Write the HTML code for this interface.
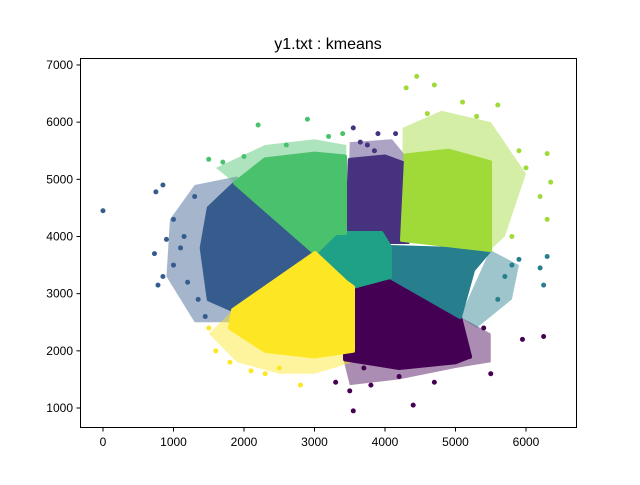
<!DOCTYPE html>
<html><head><meta charset="utf-8"><style>
body{margin:0;background:#fff;width:640px;height:480px;overflow:hidden;font-family:"Liberation Sans",sans-serif}
</style></head><body>
<svg id="chart" width="640" height="480" xmlns="http://www.w3.org/2000/svg">
<rect width="640" height="480" fill="#fff"/>
<text x="328" y="49" font-size="16" text-anchor="middle" font-family="Liberation Sans, sans-serif">y1.txt : kmeans</text>
<g id="marks"></g>
<rect x="80.5" y="58.5" width="496" height="369" fill="none" stroke="#000" stroke-width="1"/>
<g id="axes"></g>
</svg>
<script>
const xTicks=[0,1000,2000,3000,4000,5000,6000];
const yTicks=[1000,2000,3000,4000,5000,6000,7000];
const clusterNames=["purple","indigo","blue","teal","center","green","lime","yellow"];
const clusterColors=["#440154","#46327e","#365c8d","#277f8e","#1fa187","#4ac16d","#a0da39","#fde725"];
const coreX=[
 [3546,4070,5064,5206,5000,4200,3433,3433],
 [3461,3500,4000,4326,4326,3461],
 [1872,3007,1844,1500,1400,1500],
 [4070,5490,5250,5064,4070],
 [3007,3300,3950,4070,4070,3546,3450],
 [1872,2300,3000,3433,3433,3300,3007],
 [4241,4300,4900,5490,5490,4241],
 [3007,3450,3546,3546,3000,2300,1800,1844]
];
const coreY=[
 [3117,3291,2592,1900,1800,1700,1850,3000],
 [3950,5340,5400,5250,3904,3904],
 [4935,3711,2714,2900,3800,4500],
 [3816,3764,3414,2592,3291],
 [3711,4061,4061,3816,3291,3117,3200],
 [4935,5350,5450,5400,4061,4061,3711],
 [3940,5420,5500,5300,3764,3940],
 [3711,3200,3117,2000,1900,2000,2400,2714]
];
const haloX=[
 [3400,3500,4200,5000,5500,5500,5206,5064,3546],
 [3500,4100,4300,4326,3461],
 [1300,1900,3007,1800,1300,900,950],
 [5490,5900,5800,5300,5064],
 [3007],
 [1600,2300,3000,3450,3450,3007,1872],
 [4250,4800,5500,6000,5700,5490,4241],
 [1844,1500,1900,2500,3000,3546,3546]
];
const haloY=[
 [1900,1400,1500,1700,1800,2300,2500,2592,3117],
 [5650,5700,5400,3904,3950],
 [4900,5050,3711,2500,2500,3300,4300],
 [3764,3500,2900,2400,2592],
 [3711],
 [5200,5600,5700,5600,4061,3711,4935],
 [5900,6200,6000,5100,4000,3764,3940],
 [2714,2300,1800,1600,1600,1800,2190]
];
const outX=[
 [3500,3550,3800,4400,4200,4700,5500,5200,5950,6250,5400,3300,4900,3700],
 [3550,3650,3900,3750,4150,3850],
 [0,750,850,730,780,900,1000,1100,1200,1300,1350,1450,1000,1150,850],
 [6300,6200,6250,5700,5600,5800,5900],
 [],
 [1500,2200,2900,1700,2600,3200,3400,2000],
 [4450,4300,4700,5100,5600,6300,6350,6200,6300,5800,5900,5300,4600,6000],
 [1600,1800,2100,2800,2500,1500,2300]
];
const outY=[
 [1300,950,1400,1050,1550,1450,1600,1900,2200,2250,2400,1450,2100,1700],
 [5900,5650,5800,5600,5800,5500],
 [4450,4780,4900,3700,3150,3950,4300,3800,3200,4700,2900,2600,3500,4000,3300],
 [3650,3450,3150,3300,2900,3500,3600],
 [],
 [5350,5950,6050,5300,5600,5750,5800,5400],
 [6800,6600,6650,6350,6300,5450,4950,4700,4300,4000,5500,6100,6150,5200],
 [2000,1800,1650,1400,1700,2400,1600]
];
const xs=v=>103+v*0.0705, ys=v=>408-(v-1000)*0.05717;
const NS="http://www.w3.org/2000/svg";
const marks=document.getElementById('marks'), axes=document.getElementById('axes');
clusterNames.forEach((n,i)=>{
  if(haloX[i].length<3) return;
  const p=document.createElementNS(NS,'polygon');
  p.setAttribute('points',haloX[i].map((x,j)=>xs(x)+','+ys(haloY[i][j])).join(' '));
  p.setAttribute('fill',clusterColors[i]);p.setAttribute('fill-opacity','0.45');
  p.setAttribute('stroke-linejoin','round');
  
  
  marks.appendChild(p);
});
clusterNames.forEach((n,i)=>{
  const p=document.createElementNS(NS,'polygon');
  p.setAttribute('points',coreX[i].map((x,j)=>xs(x)+','+ys(coreY[i][j])).join(' '));
  p.setAttribute('fill',clusterColors[i]);p.setAttribute('stroke',clusterColors[i]);
  p.setAttribute('stroke-width','4');p.setAttribute('stroke-linejoin','round');
  
  
  marks.appendChild(p);
});
clusterNames.forEach((n,i)=>{
  outX[i].forEach((x,j)=>{
    const c=document.createElementNS(NS,'circle');
    c.setAttribute('cx',xs(x));c.setAttribute('cy',ys(outY[i][j]));c.setAttribute('r',2.5);
    c.setAttribute('fill',clusterColors[i]);
    
    
    marks.appendChild(c);
  });
});
xTicks.forEach(t=>{
  const x=xs(t);
  const l=document.createElementNS(NS,'line');
  l.setAttribute('x1',x);l.setAttribute('x2',x);l.setAttribute('y1',427.5);l.setAttribute('y2',431.5);l.setAttribute('stroke','#000');
  
  
  axes.appendChild(l);
  const tx=document.createElementNS(NS,'text');
  tx.setAttribute('x',x);tx.setAttribute('y',446);tx.setAttribute('font-size','12');tx.setAttribute('text-anchor','middle');
  tx.textContent=t;
  
  
  axes.appendChild(tx);
});
yTicks.forEach(t=>{
  const y=ys(t);
  const l=document.createElementNS(NS,'line');
  l.setAttribute('x1',76.5);l.setAttribute('x2',80.5);l.setAttribute('y1',y);l.setAttribute('y2',y);l.setAttribute('stroke','#000');
  
  
  axes.appendChild(l);
  const tx=document.createElementNS(NS,'text');
  tx.setAttribute('x',73);tx.setAttribute('y',y+4);tx.setAttribute('font-size','12');tx.setAttribute('text-anchor','end');
  tx.textContent=t;
  
  
  axes.appendChild(tx);
});
</script>
</body></html>
